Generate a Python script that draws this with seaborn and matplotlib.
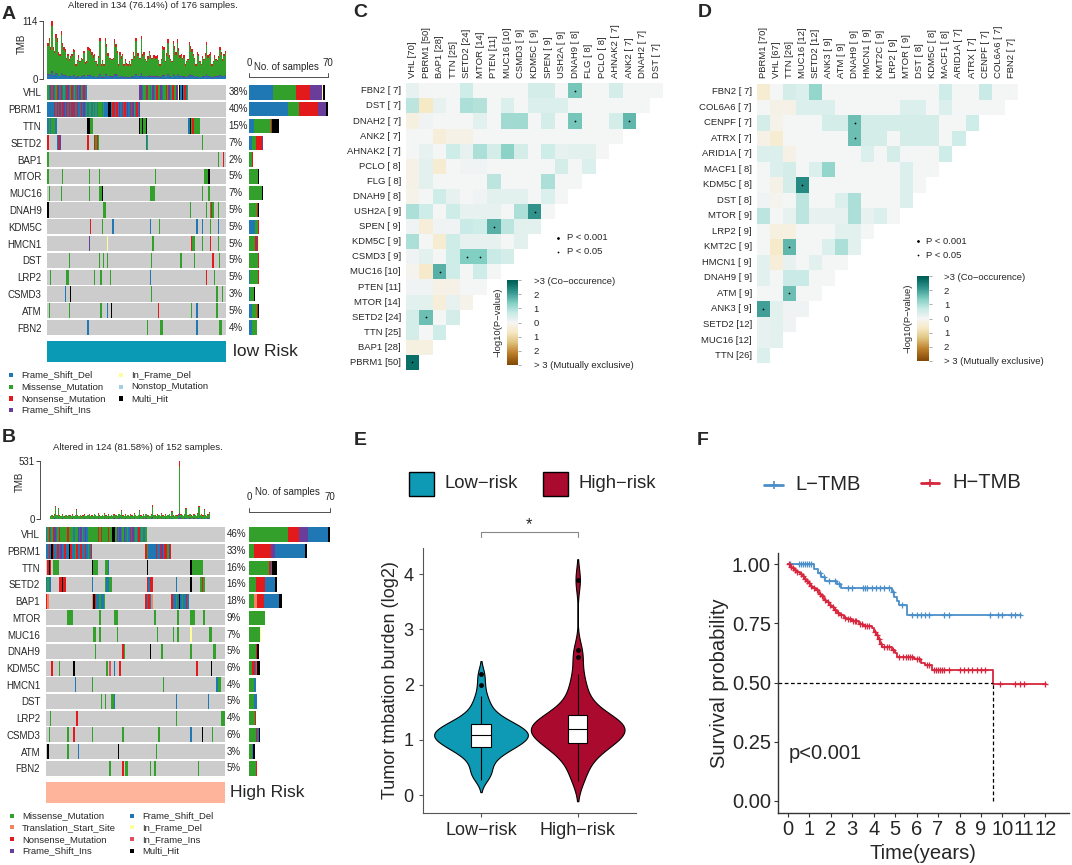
import numpy as np
import pandas as pd
import seaborn as sns
import matplotlib as mpl
import matplotlib.pyplot as plt
from matplotlib.patches import Rectangle
from matplotlib.colors import ListedColormap, Normalize

W, H = 1072, 865

# ---------------- oncoplot data (A = low risk, B = high risk) ----------------
genes = ["VHL", "PBRM1", "TTN", "SETD2", "BAP1", "MTOR", "MUC16", "DNAH9",
         "KDM5C", "HMCN1", "DST", "LRP2", "CSMD3", "ATM", "FBN2"]

mut_names = {"D": "Frame_Shift_Del", "M": "Missense_Mutation", "N": "Nonsense_Mutation",
             "I": "Frame_Shift_Ins", "d": "In_Frame_Del", "S": "Nonstop_Mutation",
             "X": "Multi_Hit", "T": "Translation_Start_Site", "i": "In_Frame_Ins"}
mut_colors = {"D": "#1F78B4", "M": "#33A02C", "N": "#E31A1C", "I": "#6A3D9A",
              "d": "#FFFF99", "S": "#A6CEE3", "X": "#000000", "T": "#F4845F",
              "i": "#E04F5F"}

legend_low = ["D", "M", "N", "I", "d", "S", "X"]
legend_high = ["M", "T", "N", "I", "D", "d", "i", "X"]

n_low_total, n_low_cols = 176, 134
n_high_total, n_high_cols = 152, 124

tmb_low = [70, 81, 62, 114, 62, 55, 88, 80, 52, 49,
           94, 70, 62, 58, 42, 49, 39, 45, 49, 59,
           57, 29, 38, 46, 36, 42, 40, 55, 33, 35,
           62, 60, 59, 52, 46, 49, 36, 29, 45, 81,
           29, 38, 29, 81, 68, 50, 42, 42, 40, 42,
           78, 68, 55, 29, 52, 44, 49, 29, 39, 31,
           29, 36, 29, 40, 52, 45, 81, 50, 50, 42,
           85, 48, 52, 40, 36, 44, 55, 46, 42, 46,
           46, 44, 46, 38, 29, 40, 65, 62, 36, 50,
           78, 46, 40, 36, 75, 65, 52, 78, 60, 46,
           49, 42, 46, 29, 36, 40, 72, 65, 59, 49,
           42, 29, 52, 49, 36, 30, 45, 40, 50, 72,
           46, 49, 52, 29, 36, 46, 40, 38, 45, 62,
           52, 39, 49, 55]
tmb_high = [30, 38, 25, 45, 121, 40, 100, 35, 28, 42,
            30, 25, 36, 28, 40, 33, 26, 45, 30, 38,
            88, 34, 28, 40, 25, 32, 45, 30, 27, 38,
            42, 29, 35, 26, 48, 38, 30, 55, 33, 28,
            40, 30, 52, 35, 27, 44, 30, 38, 26, 45,
            32, 40, 28, 50, 36, 82, 34, 29, 42, 31,
            38, 27, 45, 33, 30, 55, 36, 28, 40, 82,
            35, 30, 44, 28, 50, 33, 38, 27, 46, 127,
            40, 32, 28, 45, 36, 30, 52, 34, 29, 42,
            31, 38, 48, 30, 73, 35, 28, 40, 33, 45,
            531, 42, 36, 30, 48, 103, 38, 32, 50, 35,
            30, 44, 36, 28, 55, 121, 40, 46, 33, 91,
            38, 30, 45, 60]
tmb_frac_low = [("D", 0.10), ("I", 0.03), ("M", 0.78), ("N", 0.09)]
tmb_frac_high = [("D", 0.08), ("I", 0.03), ("M", 0.78), ("N", 0.11)]

# per gene: (first column, mutation codes of consecutive samples)
muts_low = [
    [(0, "MDNDNDMNIDNDMDNIDMNDMDNDIMDNDD"), (69, "IIDMMINMDMIDMNMMIDMMNMIDMNMMIdXDXDNDM")],
    [(0, "DDDDDNDNDNDNIDNDNDNINDNDDNDIDMDMMDMDMDMMMDMDDDXXDNNDNDIDNDNDIDNDIMDNDI")],
    [(0, "DMDMMMD"), (30, "XXMM"), (69, "XMXMMX"), (106, "DXMNMMMMM")],
    [(0, "N"), (7, "DNI"), (30, "N"), (35, "NMNM"), (74, "DM"), (116, "M")],
    [(0, "M"), (128, "M"), (132, "N")],
    [(0, "M"), (11, "M"), (31, "M"), (39, "M"), (81, "M"), (118, "MMMX")],
    [(1, "M"), (10, "M"), (31, "M"), (39, "MMX"), (77, "MMMM"), (116, "M"), (121, "M")],
    [(0, "X"), (42, "MM"), (107, "M"), (119, "M"), (122, "MNM"), (128, "M")],
    [(32, "N"), (41, "M"), (49, "D"), (77, "D"), (84, "M"), (112, "D"), (116, "D"), (122, "M"), (128, "D")],
    [(31, "I"), (45, "d"), (79, "M"), (108, "NMM"), (116, "M"), (122, "N"), (128, "M")],
    [(16, "M"), (39, "M"), (42, "M"), (45, "M"), (78, "M"), (100, "M"), (110, "M"), (124, "N"), (129, "M")],
    [(2, "M"), (14, "MM"), (35, "M"), (40, "M"), (47, "M"), (77, "D"), (119, "N"), (125, "M")],
    [(13, "D"), (17, "X"), (78, "M"), (127, "M"), (131, "M")],
    [(1, "M"), (16, "M"), (40, "M"), (45, "D"), (48, "X"), (83, "N"), (108, "M"), (112, "D"), (127, "M")],
    [(30, "D"), (75, "M"), (85, "MM"), (112, "D"), (129, "MM")],
]
muts_high = [
    [(0, "DMNDMNIDMNMMMMMNMMMDMMIDIMDIDMMMMMMMNMNMMMMNMMXXMIDIDMIDMDNDIDMDNDMDDM")],
    [(0, "DDNDXNDDNDIDDNDDXNDDMNDDNDDNDMDN"), (69, "NMDDDDDNDDNIDNNMIN")],
    [(1, "NXN"), (5, "MMMM"), (32, "XMMM"), (41, "MMD"), (70, "X"), (100, "XMMMMMMMM")],
    [(0, "DMDD"), (9, "NNXNN"), (32, "D"), (41, "MDDMM"), (70, "NDNN"), (90, "D"), (100, "X"), (107, "MNM")],
    [(0, "NT"), (32, "TXNDDMDDM"), (69, "NDNDT"), (87, "NDDMDXDMDDND")],
    [(15, "MMMM"), (37, "M"), (47, "MMM"), (75, "M"), (91, "M"), (100, "MMM"), (109, "M")],
    [(33, "MM"), (37, "M"), (49, "M"), (77, "M"), (88, "M"), (91, "M"), (100, "d"), (113, "MM")],
    [(34, "M"), (53, "NM"), (72, "X"), (80, "M"), (100, "M"), (116, "MM")],
    [(4, "N"), (9, "M"), (19, "X"), (42, "M"), (44, "i"), (47, "D"), (51, "N"), (104, "N"), (114, "X")],
    [(20, "D"), (32, "M"), (81, "M"), (118, "DMM")],
    [(38, "M"), (41, "M"), (45, "MMD"), (90, "D"), (112, "D")],
    [(3, "M"), (21, "N"), (90, "M"), (121, "MMM")],
    [(2, "M"), (15, "M"), (19, "N"), (32, "M"), (53, "M"), (78, "M"), (100, "D"), (108, "X"), (115, "M")],
    [(1, "X"), (15, "M"), (22, "D"), (50, "X"), (76, "M")],
    [(44, "M"), (53, "N"), (55, "MM"), (72, "M"), (75, "M"), (105, "M")],
]

# ---------------- somatic interaction data (C = high risk, D = low risk) ----------------
c_rows = ["FBN2 [ 7]", "DST [ 7]", "DNAH2 [ 7]", "ANK2 [ 7]", "AHNAK2 [ 7]", "PCLO [ 8]",
          "FLG [ 8]", "DNAH9 [ 8]", "USH2A [ 9]", "SPEN [ 9]", "KDM5C [ 9]", "CSMD3 [ 9]",
          "MUC16 [10]", "PTEN [11]", "MTOR [14]", "SETD2 [24]", "TTN [25]", "BAP1 [28]", "PBRM1 [50]"]
c_cols = ["VHL [70]", "PBRM1 [50]", "BAP1 [28]", "TTN [25]", "SETD2 [24]", "MTOR [14]",
          "PTEN [11]", "MUC16 [10]", "CSMD3 [ 9]", "KDM5C [ 9]", "SPEN [ 9]", "USH2A [ 9]",
          "DNAH9 [ 8]", "FLG [ 8]", "PCLO [ 8]", "AHNAK2 [ 7]", "ANK2 [ 7]", "DNAH2 [ 7]", "DST [ 7]"]
c_vals = [
    [0.2, 0, 0, 0, 0.6, 0, 0, 0, 0, 0.5, 0.5, 0, 1.5, 0, 0, 0.5, 0, 0, 0],
    [0.8, -0.7, 0.2, 0, 1.0, 0.9, 0, 0.4, 0, 0.4, 0.4, 0.4, 0, 0, 0, 0, 0, 0],
    [-0.3, 0.1, 0, 0, 0, 0.3, 0, 1.1, 1.1, 0, 0.5, 0, 1.5, 0, 0, 0.5, 1.7],
    [0, 0, -0.4, -0.2, -0.2, 0, 0, 0, 0, 0, 0, 0, 0, 0, 0, 0],
    [0, 0.2, 0, 0.6, 0.2, 1.0, 0.5, 1.3, 0.5, 0, 0.6, 0.2, 0.3, 0.3, 0],
    [-0.2, 0.3, -0.5, 0, 0.1, 0.1, 0, 0, 0, 0, 0, 0.5, 0, 0.4],
    [-0.2, 0.3, 0, 0, 0, 0, 0.8, 0, 0, 0, 1.0, 0, 0],
    [-0.15, 0, 0.6, 0.2, 0, 0.1, 0.3, 0.3, 0.3, 0, 0.4, 0],
    [1.0, 0.6, 0, 0.6, 0.2, 0.2, 0.2, 0, 1.0, 2.2, 0],
    [0.1, -0.4, 0.1, 0.1, 0.7, 0.6, 1.8, 0.8, 0.3, 0.3],
    [1.0, 0, -0.5, 0.6, 0.2, 0.2, 0.2, 0, 0.3],
    [0.1, 0.3, 0, 0.6, 1.4, 1.4, 0.7, 0.5],
    [-0.1, -0.6, 1.8, 0.6, 0, 0.6, 0],
    [0.1, 0.1, -0.2, -0.2, 0, 0],
    [0.3, 0.3, -0.4, 0.2, -0.15],
    [0.5, 1.6, 0, 0.5],
    [0.5, 0, 0.6],
    [-0.3, -0.3],
    [2.7],
]
c_sig = [(0, 12), (2, 12), (2, 16), (8, 9), (9, 6), (11, 4), (11, 5), (12, 2), (15, 1), (18, 0)]

d_rows = ["FBN2 [ 7]", "COL6A6 [ 7]", "CENPF [ 7]", "ATRX [ 7]", "ARID1A [ 7]", "MACF1 [ 8]",
          "KDM5C [ 8]", "DST [ 8]", "MTOR [ 9]", "LRP2 [ 9]", "KMT2C [ 9]", "HMCN1 [ 9]",
          "DNAH9 [ 9]", "ATM [ 9]", "ANK3 [ 9]", "SETD2 [12]", "MUC16 [12]", "TTN [26]"]
d_cols = ["PBRM1 [70]", "VHL [67]", "TTN [26]", "MUC16 [12]", "SETD2 [12]", "ANK3 [ 9]",
          "ATM [ 9]", "DNAH9 [ 9]", "HMCN1 [ 9]", "KMT2C [ 9]", "LRP2 [ 9]", "MTOR [ 9]",
          "DST [ 8]", "KDM5C [ 8]", "MACF1 [ 8]", "ARID1A [ 7]", "ATRX [ 7]", "CENPF [ 7]",
          "COL6A6 [ 7]", "FBN2 [ 7]"]
d_vals = [
    [-0.5, 0, 0.5, 0.4, 1.2, 0, 0, 0, 0, 0, 0, 0, 0, 0, 0.6, 0, 0, 0.7, 0, 0],
    [0, -0.2, -0.2, 0.4, 0.4, 0.4, 0, 0, 0, 0, 0, 0.4, 0.4, 0, 0.4, 0, 0, 0, 0],
    [0.5, -0.15, 0, 0, 0, 0.5, 0.5, 1.6, 0.5, 0.5, 0.5, 0.5, 0.5, 0.5, 0, 0, 0.6],
    [-0.2, -0.5, 0, 0, 0, 0, 0, 1.6, 0.5, 0.5, 0, 0.5, 0.5, 0.5, 0, 0.6],
    [0.4, 0.4, -0.2, 0, 0, 0, 0, 0, 0.4, 0, 0.5, 0, 0, 0, 0.6],
    [0, 0.4, 0.5, 0, 0.4, 1.2, 0, 0, 0, 0, 0, 0.4, 0, 0],
    [0, -0.2, 0.5, 2.3, 0, 0, 0, 0, 0, 0, 0, 0.4, 0],
    [0.1, -0.1, 0, 0.8, 0, 0, 0.4, 1.0, 0, 0, 0, 0.4],
    [0.8, 0, 0.2, 0.8, 0.2, 0.2, 0.2, 1.0, 0.2, 0.4, 0],
    [0, -0.3, -0.3, 0, 0, 0, 0.3, 0.3, 0],
    [0, -0.6, 1.7, 0, 0, 0.4, 1.0, 0.3],
    [0.3, -0.4, 0.2, 0, 0.3, 0, 0],
    [0.3, 0, 0.7, 0.7, 0, 0],
    [0, 0, 1.6, 0, 0],
    [2.0, 0.3, 0.1, 0.1],
    [0.2, 0.3, 0.1],
    [0.2, 0.3],
    [0.4],
]
d_sig = [(2, 7), (3, 7), (6, 3), (10, 2), (13, 2), (14, 0)]

# ---------------- TMB violin data (log2) ----------------
tmb_log_low = [0.28, 0.38, 0.40, 0.50, 0.58, 0.64, 0.70, 0.74, 0.78, 0.81, 0.84, 0.86,
               0.88, 0.90, 0.92, 0.94, 0.96, 0.98, 1.00, 1.02, 1.03, 1.05, 1.06, 1.08,
               1.09, 1.10, 1.12, 1.13, 1.15, 1.16, 1.18, 1.20, 1.22, 1.24, 1.26, 1.28,
               1.30, 1.32, 1.35, 1.38, 1.42, 1.47, 1.53, 1.60, 1.70, 1.80, 1.99, 2.20]
tmb_log_high = [0.26, 0.35, 0.50, 0.60, 0.68, 0.75, 0.80, 0.85, 0.88, 0.92, 0.94, 0.95,
                0.98, 1.03, 1.05, 1.08, 1.10, 1.12, 1.14, 1.16, 1.18, 1.19, 1.20, 1.22,
                1.24, 1.26, 1.28, 1.30, 1.32, 1.35, 1.37, 1.39, 1.41, 1.45, 1.50, 1.55,
                1.62, 1.70, 1.80, 1.92, 2.05, 2.20, 2.50, 2.62, 3.90]
risk_groups = ["Low\u2212risk", "High\u2212risk"]

# ---------------- Kaplan-Meier steps (years, survival) ----------------
l_time = [0, 1.2, 1.4, 1.55, 1.75, 2.3, 2.5, 4.85, 4.95, 5.1, 5.2, 5.55, 10.85]
l_surv = [1.0, 0.982, 0.964, 0.946, 0.93, 0.915, 0.90, 0.882, 0.864, 0.846, 0.828, 0.787, 0.787]
l_cens = [0.1, 0.5, 0.6, 0.7, 0.8, 0.9, 1.0, 1.1, 1.5, 1.7, 1.9, 2.2, 2.4, 2.8, 3.0, 3.5,
          3.6, 3.7, 3.9, 4.1, 4.3, 4.5, 4.7, 4.9, 5.3, 5.8, 6.0, 6.2, 6.4, 6.6, 7.3, 7.5,
          9.4, 9.8, 10.0, 10.4, 10.6, 10.8]
h_time = [0, 0.1, 0.2, 0.3, 0.4, 0.55, 0.65, 0.75, 0.85, 0.95, 1.05, 1.15, 1.3, 1.45,
          1.55, 1.7, 1.8, 1.9, 2.0, 2.15, 2.3, 2.45, 2.6, 2.75, 3.0, 3.3, 3.5, 3.9, 4.0,
          4.1, 4.2, 4.3, 4.4, 4.85, 5.0, 5.1, 5.9, 6.2, 6.4, 6.7, 9.55, 12.03]
h_surv = [1.0, 0.99, 0.985, 0.975, 0.968, 0.96, 0.95, 0.94, 0.93, 0.92, 0.91, 0.90, 0.89,
          0.875, 0.865, 0.85, 0.84, 0.828, 0.818, 0.805, 0.795, 0.785, 0.775, 0.767, 0.76,
          0.748, 0.74, 0.73, 0.715, 0.70, 0.685, 0.665, 0.652, 0.64, 0.625, 0.61, 0.598,
          0.585, 0.575, 0.552, 0.495, 0.495]
h_cens = [0.05, 0.15, 0.25, 0.35, 0.45, 0.6, 0.7, 0.8, 0.9, 1.0, 1.1, 1.2, 1.35, 1.5, 1.6,
          1.75, 1.85, 1.95, 2.1, 2.2, 2.35, 2.5, 2.65, 2.8, 2.9, 3.05, 3.15, 3.2, 3.35, 3.45,
          3.6, 3.7, 3.8, 4.05, 4.15, 4.25, 4.35, 4.5, 4.6, 4.7, 4.9, 5.2, 5.35, 5.5, 5.6,
          5.7, 5.8, 6.0, 6.1, 6.5, 6.6, 6.8, 6.9, 7.0, 7.1, 7.2, 7.3, 7.5, 8.0, 8.2, 8.4,
          8.6, 8.8, 9.0, 9.2, 9.9, 10.6, 10.8, 11.0, 12.0]
median_time = 9.55

# ---------------- figure ----------------
sns.set_theme(style="white")
plt.rcParams["font.family"] = ["Liberation Sans", "DejaVu Sans"]
plt.rcParams["axes.unicode_minus"] = True

fig = plt.figure(figsize=(W / 100, H / 100), dpi=100)


def px_axes(x0, y0, x1, y1):
    return fig.add_axes([x0 / W, 1 - y1 / H, (x1 - x0) / W, (y1 - y0) / H])


ov = fig.add_axes([0, 0, 1, 1], zorder=10)
ov.set_xlim(0, W)
ov.set_ylim(H, 0)
ov.axis("off")
ov.patch.set_alpha(0)


def draw_oncoplot(tmb, muts, n_cols, n_total, order, frac, tmb_top, g):
    # TMB bars
    ax = px_axes(*g["tmb"])
    xs = np.arange(len(tmb))
    base = np.zeros(len(tmb))
    for code, f in frac:
        h = np.asarray(tmb, float) * f
        ax.bar(xs, h, bottom=base, width=1.0, color=mut_colors[code], linewidth=0)
        base = base + h
    ax.set_xlim(-0.5, len(tmb) - 0.5)
    ax.set_ylim(0, tmb_top)
    ax.set_xticks([])
    ax.set_yticks([0, tmb_top])
    ax.tick_params(axis="y", labelsize=7, length=3, width=0.6, pad=1, left=True)
    sns.despine(ax=ax, bottom=True)
    ax.spines["left"].set_position(("outward", g["tmb_off"]))
    ax.spines["left"].set_linewidth(0.6)
    ax.spines["left"].set_color("#333333")
    ov.text(*g["tmb_lab"], "TMB", fontsize=7, rotation=90, ha="center", va="center")

    # mutation matrix
    ax = px_axes(*g["mat"])
    ng = len(genes)
    ax.barh(np.arange(ng), n_cols, left=0, height=0.9, color="#CCCCCC", linewidth=0)
    cells = [(r, c, code) for r, segs in enumerate(muts)
             for s, codes in segs for c, code in enumerate(codes, start=s)]
    ax.bar([c + 0.5 for r, c, k in cells], 0.9, bottom=[r - 0.45 for r, c, k in cells],
           width=1.0, color=[mut_colors[k] for r, c, k in cells], linewidth=0)
    ax.set_xlim(0, n_cols)
    ax.set_ylim(ng - 0.5, -0.5)
    ax.set_xticks([])
    ax.set_yticks(range(ng))
    ax.set_yticklabels(genes, fontsize=7)
    ax.tick_params(axis="y", length=0, pad=4)
    sns.despine(ax=ax, left=True, bottom=True)

    counts = [{k: 0 for k in order} for _ in genes]
    for r, c, k in cells:
        counts[r][k] += 1

    x0, y0, x1, y1 = g["mat"]
    rh = (y1 - y0) / ng
    for r in range(ng):
        pct = int(100 * sum(counts[r].values()) / n_total + 0.5)
        ov.text(g["pct_x"], y0 + (r + 0.5) * rh, f"{pct}%", fontsize=7,
                va="center", ha="left")

    # side bar of sample counts
    ax = px_axes(*g["side"])
    for r in range(ng):
        left = 0
        for k in order:
            n = counts[r][k]
            if n:
                ax.barh(r, n, left=left, height=0.86, color=mut_colors[k], linewidth=0)
                left += n
    ax.set_xlim(0, 70)
    ax.set_ylim(ng - 0.5, -0.5)
    ax.axis("off")
    sx0, _, sx1, _ = g["side"]
    by = g["side_axis_y"]
    ov.plot([sx0, sx0, sx1, sx1], [by - 4, by, by, by - 4], color="#333333", lw=0.6)
    ov.text(sx0, g["side_num_y"], "0", fontsize=7, ha="center", va="center")
    ov.text(sx1, g["side_num_y"], "70", fontsize=7, ha="center", va="center")
    ov.text((sx0 + sx1) / 2 - 2, g["side_lab_y"], "No. of samples", fontsize=7,
            ha="center", va="center")

    # risk annotation bar
    rx0, ry0, rx1, ry1 = g["risk"]
    ov.add_patch(Rectangle((rx0, ry0), rx1 - rx0, ry1 - ry0, color=g["risk_col"], lw=0))
    ov.text(*g["risk_txt"], g["risk_label"], fontsize=12.5, va="center", ha="left")

    # legend
    for i, k in enumerate(order):
        lx = g["leg_x"][i // 4]
        ly = g["leg_y"][i % 4]
        ov.add_patch(Rectangle((lx - 2.2, ly - 2.2), 4.4, 4.4, color=mut_colors[k], lw=0))
        ov.text(lx + 10, ly, mut_names[k], fontsize=6.8, va="center", ha="left")

    ov.text(*g["title_xy"], g["title"], fontsize=6.8, ha="center", va="center")


geo_low = {"tmb": (47.3, 20.7, 226, 79), "tmb_off": 3, "tmb_lab": (22, 44),
           "mat": (47.3, 84, 225.5, 336),
           "pct_x": 228.5, "side": (249.3, 84, 328.3, 336), "side_axis_y": 77,
           "side_num_y": 63.5, "side_lab_y": 66.5, "risk": (47.3, 340.7, 225.5, 361.7),
           "risk_col": "#0A9AB6", "risk_txt": (233, 351), "risk_label": "low Risk",
           "leg_x": [11, 121], "leg_y": [375, 386.7, 398.3, 410],
           "title_xy": (153, 5), "title": "Altered in 134 (76.14%) of 176 samples."}
geo_high = {"tmb": (50, 460.7, 210, 519), "tmb_off": 7, "tmb_lab": (20, 482),
            "mat": (45.7, 526, 225, 776.7),
            "pct_x": 226.5, "side": (249.3, 526, 330, 776.7), "side_axis_y": 511.7,
            "side_num_y": 497.3, "side_lab_y": 492.3, "risk": (45.7, 781.7, 225, 803.3),
            "risk_col": "#FDB49A", "risk_txt": (230, 793), "risk_label": "High Risk",
            "leg_x": [12, 132], "leg_y": [815.7, 827.3, 839.3, 851],
            "title_xy": (137.5, 447.5), "title": "Altered in 124 (81.58%) of 152 samples."}

draw_oncoplot(tmb_low, muts_low, n_low_cols, n_low_total, legend_low, tmb_frac_low, 114, geo_low)
draw_oncoplot(tmb_high, muts_high, n_high_cols, n_high_total, legend_high, tmb_frac_high, 531, geo_high)

# ---------------- interaction heatmaps ----------------
base_cmap = plt.get_cmap("BrBG")
inter_cmap = ListedColormap(base_cmap(np.linspace(0.08, 0.92, 256)))


def draw_interactions(rows, cols, vals, sig, box, cbox, sig_xy):
    mat = np.full((len(rows), len(cols)), np.nan)
    for i, rv in enumerate(vals):
        mat[i, :len(rv)] = rv
    df = pd.DataFrame(mat, index=rows, columns=cols)
    ax = px_axes(*box)
    sns.heatmap(df, ax=ax, cmap=inter_cmap, vmin=-3, vmax=3, cbar=False,
                xticklabels=True, yticklabels=True, linewidths=0)
    ax.xaxis.tick_top()
    ax.set_xticklabels(cols, rotation=90, fontsize=6.8)
    ax.set_yticklabels(rows, rotation=0, fontsize=6.8)
    ax.tick_params(axis="both", length=0)
    ax.tick_params(axis="x", pad=4)
    ax.tick_params(axis="y", pad=3.5)
    ax.set_xlabel("")
    ax.set_ylabel("")
    ax.scatter([c + 0.5 for r, c in sig], [r + 0.5 for r, c in sig], s=1.6, color="black",
               linewidths=0, zorder=5)

    cax = px_axes(*cbox)
    cb = mpl.colorbar.ColorbarBase(cax, cmap=inter_cmap, norm=Normalize(-3, 3))
    cb.set_ticks([-3, -2, -1, 0, 1, 2, 3])
    cb.set_ticklabels(["> 3 (Mutually exclusive)", "2", "1", "0", "1", "2",
                       ">3 (Co\u2212occurence)"])
    cb.outline.set_visible(False)
    cax.tick_params(labelsize=6.8, length=2, width=0.5, color="#888888", pad=9)
    cax.yaxis.set_label_position("left")
    cax.set_ylabel("\u2212log10(P\u2212value)", fontsize=6.8, labelpad=3)

    dx, tx, y1, y2 = sig_xy
    ov.scatter([dx], [y1], s=4, color="black", linewidths=0)
    ov.scatter([dx], [y2], s=1.6, color="black", linewidths=0)
    ov.text(tx, y1, "P < 0.001", fontsize=6.8, va="center")
    ov.text(tx, y2, "P < 0.05", fontsize=6.8, va="center")


draw_interactions(c_rows, c_cols, c_vals, c_sig, (405.7, 83.3, 663.3, 370),
                  (506.7, 280, 518.3, 365), (558, 567, 237.5, 251.5))
draw_interactions(d_rows, d_cols, d_vals, d_sig, (756.7, 84, 1017.7, 363.3),
                  (916.7, 276, 928.7, 361), (918, 926, 241, 255))

# ---------------- E: violin ----------------
c_low, c_high = "#0E9AB5", "#AA0A2E"
df_e = pd.DataFrame({"group": [risk_groups[0]] * len(tmb_log_low) + [risk_groups[1]] * len(tmb_log_high),
                     "tmb": tmb_log_low + tmb_log_high})
axE = px_axes(422.7, 547.7, 635.7, 812.7)
sns.violinplot(data=df_e, x="group", y="tmb", hue="group", palette=[c_low, c_high],
               inner=None, linewidth=0.8, linecolor="black", width=0.97,
               density_norm="width", cut=1.8, bw_adjust=0.7, saturation=1,
               legend=False, ax=axE)
sns.boxplot(data=df_e, x="group", y="tmb", width=0.2, color="white", linecolor="black",
            linewidth=0.8, showcaps=False, fliersize=2.5, saturation=1,
            flierprops=dict(marker="o", markerfacecolor="black", markeredgecolor="black"),
            ax=axE)
axE.set_xlim(-0.603, 1.6)
axE.set_ylim(-0.32, 4.48)
axE.set_yticks([0, 1, 2, 3, 4])
axE.set_xlabel("")
axE.set_ylabel("Tumor tmbation burden (log2)", fontsize=13, labelpad=3)
axE.tick_params(axis="both", labelsize=13, length=3, width=0.8, color="#555555",
                bottom=True, left=True)
sns.despine(ax=axE)
for s in ["left", "bottom"]:
    axE.spines[s].set_color("#555555")
    axE.spines[s].set_linewidth(0.8)
axE.plot([0, 0, 1, 1], [4.68, 4.76, 4.76, 4.68], color="#888888", lw=0.8, clip_on=False)
axE.text(0.5, 4.9, "*", ha="center", va="center", fontsize=12, clip_on=False)
for (lx, tx), name, colr in zip([(409, 445), (543, 579)], risk_groups, [c_low, c_high]):
    ov.add_patch(Rectangle((lx, 471.7), 24.5, 24.3, facecolor=colr, edgecolor="black", lw=1))
    ov.text(tx, 484, name, fontsize=13.3, va="center", ha="left")

# ---------------- F: Kaplan-Meier ----------------
c_l, c_h = "#4A8FC9", "#D7263D"
axF = px_axes(777.7, 553, 1069, 812.7)
for t, s, cens, colr in [(l_time, l_surv, l_cens, c_l), (h_time, h_surv, h_cens, c_h)]:
    sns.lineplot(x=t, y=s, drawstyle="steps-post", color=colr, lw=1.3, estimator=None,
                 sort=False, ax=axF)
    idx = np.searchsorted(t, cens, side="right") - 1
    axF.plot(cens, np.asarray(s)[idx], "+", color=colr, ms=5, mew=0.9)
axF.plot([-0.47, median_time], [0.5, 0.5], color="black", lw=0.9, ls=(0, (3, 2)))
axF.plot([median_time, median_time], [0, 0.5], color="black", lw=0.9, ls=(0, (3, 2)))
axF.set_xlim(-0.47, 13.1)
axF.set_ylim(-0.05, 1.048)
axF.set_xticks(range(13))
axF.set_yticks([0, 0.25, 0.5, 0.75, 1.0])
axF.set_yticklabels(["0.00", "0.25", "0.50", "0.75", "1.00"])
axF.tick_params(axis="both", labelsize=14.5, length=3, width=0.8, color="#333333",
                bottom=True, left=True, pad=2)
axF.set_xlabel("Time(years)", fontsize=14.5, labelpad=4)
axF.set_ylabel("Survival probability", fontsize=14.5, labelpad=2)
sns.despine(ax=axF)
for s in ["left", "bottom"]:
    axF.spines[s].set_color("#333333")
    axF.spines[s].set_linewidth(1.0)
axF.text(0.05, 0.2, "p<0.001", fontsize=14.5, va="center", ha="left")
for (x0, x1, tx, ly), name, colr in zip([(764, 783, 795, 485), (921, 939, 952, 483)],
                                          ["L\u2212TMB", "H\u2212TMB"], [c_l, c_h]):
    ov.plot([x0, x1], [ly, ly], color=colr, lw=2)
    ov.plot([(x0 + x1) / 2], [ly], "+", color=colr, ms=6, mew=1.2)
    ov.text(tx, ly, name, fontsize=14.5, va="center", ha="left")

# ---------------- panel letters ----------------
for letter, x, y in [("A", 2, 14.5), ("B", 2, 438), ("C", 353, 12.5), ("D", 698, 12.5),
                     ("E", 354, 440.5), ("F", 697, 440.5)]:
    ov.text(x, y, letter, fontsize=14, fontweight="bold", va="center", ha="left")

fig.savefig("out.png", dpi=100)
